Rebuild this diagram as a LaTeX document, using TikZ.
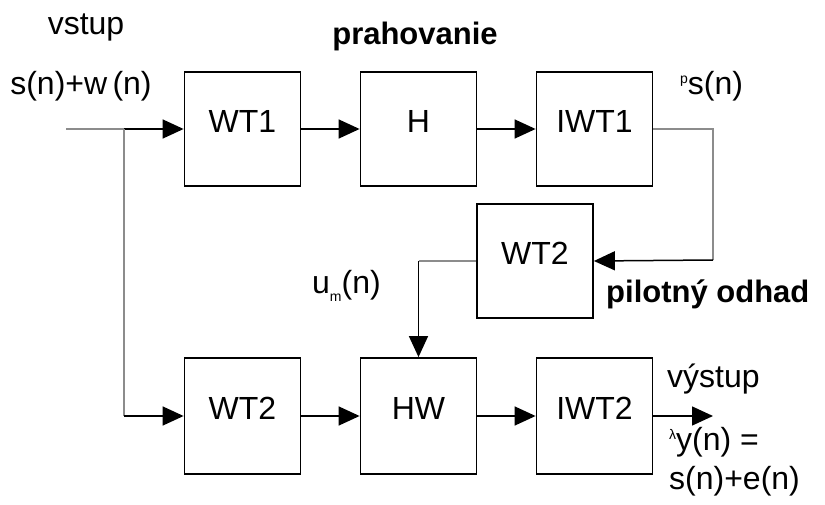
\documentclass[tikz,border=0pt]{standalone}
\usepackage{fontspec}
\setmainfont{Liberation Sans}
\usetikzlibrary{arrows.meta}
\begin{document}
\begin{tikzpicture}[x=1pt,y=-1pt,
  blk/.style={draw=black,line width=1.8pt,minimum width=116pt,minimum height=114pt,inner sep=0pt,text height=0.72em,text depth=0pt,font=\fontsize{32}{38}\selectfont},
  lbl/.style={inner sep=0pt,font=\fontsize{32}{38}\selectfont},
  blbl/.style={inner sep=0pt,font=\fontsize{31}{37}\selectfont\bfseries},
  conn/.style={line width=1.5pt,draw=black},
  gconn/.style={line width=1.5pt,draw=black!45},
  arr/.style={-{Triangle[length=21pt,width=19pt]}}]
\useasboundingbox (0,0) rectangle (825,505);
% blocks
\node[blk] (wt1) at (242.5,129) {WT1};
\node[blk] (h) at (418.5,129) {H};
\node[blk] (iwt1) at (594.5,129) {IWT1};
\node[blk] (wt2m) at (535,261) {WT2};
\node[blk,minimum height=116pt] (wt2b) at (242.5,416) {WT2};
\node[blk,minimum height=116pt] (hw) at (418.5,416) {HW};
\node[blk,minimum height=116pt] (iwt2) at (594.5,416) {IWT2};
% coordinates
\coordinate (in) at (66,129);
\coordinate (br) at (124,129);
\coordinate (brb) at (124,416);
\coordinate (fbt) at (713,129);
\coordinate (fbb) at (713,260);
\coordinate (out) at (713,416);
% connectors
\draw[gconn] (in) -- (br);
\draw[conn,arr] (br) -- (wt1.west);
\draw[gconn] (br) -- (brb);
\draw[conn,arr] (brb) -- (wt2b.west);
\draw[conn,arr] (wt1.east) -- (h.west);
\draw[conn,arr] (h.east) -- (iwt1.west);
\draw[gconn] (iwt1.east) -- (fbt) -- (fbb);
\draw[conn,arr] (fbb) -- (wt2m.east);
\draw[gconn] (wt2m.west) -- (wt2m.west -| hw.north);
\draw[conn,arr] (wt2m.west -| hw.north) -- (hw.north);
\draw[conn,arr] (wt2b.east) -- (hw.west);
\draw[conn,arr] (hw.east) -- (iwt2.west);
\draw[conn,arr] (iwt2.east) -- (out);
% labels
\node[lbl] (lvstup) at (86,27) {vstup};
\node[lbl] (lin) at (81,86) {s(n)+w\,(n)};
\node[blbl] (lprah) at (415,36) {prahovanie};
\node[lbl,anchor=west] (lps) at (680,86) {\raisebox{0.35em}{\fontsize{14}{16}\selectfont p}s(n)};
\node[lbl,anchor=west] (lum) at (312,286) {u\raisebox{-0.25em}{\fontsize{14}{16}\selectfont m}(n)};
\node[blbl,anchor=west] (lpil) at (606,294) {pilotný odhad};
\node[lbl,anchor=west] (lvys) at (667,379) {výstup};
\node[lbl,anchor=west] (ly) at (669,442) {\raisebox{0.35em}{\fontsize{14}{16}\selectfont λ}y(n) =};
\node[lbl,anchor=west] (le) at (669,481) {s(n)+e(n)};
\end{tikzpicture}
\end{document}
